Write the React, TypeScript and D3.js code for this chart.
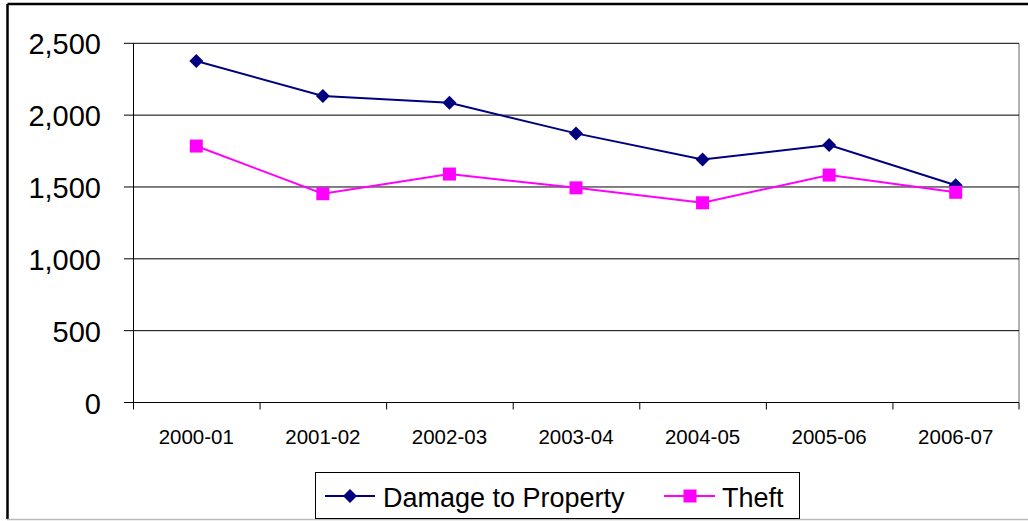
import React from "react";
import * as d3 from "d3";

const categories = ["2000-01", "2001-02", "2002-03", "2003-04", "2004-05", "2005-06", "2006-07"];
const damageToProperty = [2377, 2133, 2086, 1873, 1691, 1792, 1512];
const theft = [1785, 1453, 1590, 1494, 1390, 1583, 1463];
const yTicks = [0, 500, 1000, 1500, 2000, 2500];

const W = 1028;
const H = 521;
const FONT = "'Liberation Sans', Arial, sans-serif";

export default function App() {
  const x = d3.scaleBand<string>().domain(categories).range([133, 1019]).padding(0);
  const y = d3.scaleLinear().domain([0, 2500]).range([402.5, 43.3]);
  const cx = (c: string) => (x(c) as number) + x.bandwidth() / 2;
  const line = d3
    .line<number>()
    .x((_, i) => cx(categories[i]))
    .y((d) => y(d));
  const fmt = d3.format(",");
  const diamond = (px: number, py: number, r: number) =>
    `M${px},${py - r}L${px + r},${py}L${px},${py + r}L${px - r},${py}Z`;

  return (
    <svg
      width={W}
      height={H}
      style={{ position: "absolute", left: 0, top: 0, background: "#fff" }}
      fontFamily={FONT}
    >
      <rect x={0} y={0} width={W} height={H} fill="#fff" />
      {/* outer frame */}
      <line x1={7.5} y1={4} x2={W} y2={4} stroke="#000" strokeWidth={2.5} />
      <line x1={7.5} y1={4} x2={7.5} y2={519} stroke="#000" strokeWidth={2.5} />
      <line x1={7} y1={519.5} x2={W} y2={519.5} stroke="#bbb" strokeWidth={1.5} />

      {/* plot area right border */}
      <line x1={1019} y1={y(2500)} x2={1019} y2={y(0)} stroke="#808080" strokeWidth={1.2} />
      {/* gridlines */}
      {yTicks.map((t) => (
        <g key={t}>
          <line x1={124} x2={1019} y1={y(t)} y2={y(t)} stroke="#000" strokeWidth={1} />
          <text
            x={101}
            y={y(t) + 11}
            textAnchor="end"
            fontSize={29}
            fill="#000"
          >
            {fmt(t)}
          </text>
        </g>
      ))}
      {/* y axis */}
      <line x1={133.5} x2={133.5} y1={y(2500)} y2={y(0)} stroke="#000" strokeWidth={1} />
      {/* x ticks */}
      {categories.map((c) => (
        <line
          key={"t" + c}
          x1={(x(c) as number) + 0.5}
          x2={(x(c) as number) + 0.5}
          y1={y(0)}
          y2={409.5}
          stroke="#000"
          strokeWidth={1}
        />
      ))}
      <line x1={1019} x2={1019} y1={y(0)} y2={409.5} stroke="#000" strokeWidth={1} />
      {categories.map((c) => (
        <text key={"l" + c} x={cx(c)} y={444} textAnchor="middle" fontSize={20.5} fill="#000">
          {c}
        </text>
      ))}

      {/* series */}
      <path d={line(damageToProperty) as string} fill="none" stroke="#000080" strokeWidth={2} />
      {damageToProperty.map((v, i) => (
        <path key={"d" + i} d={diamond(cx(categories[i]), y(v), 7)} fill="#000080" />
      ))}
      <path d={line(theft) as string} fill="none" stroke="#FF00FF" strokeWidth={2} />
      {theft.map((v, i) => (
        <rect
          key={"s" + i}
          x={cx(categories[i]) - 6.5}
          y={y(v) - 6.5}
          width={13}
          height={13}
          fill="#FF00FF"
        />
      ))}

      {/* legend */}
      <rect x={315.5} y={472.5} width={484} height={46} fill="#fff" stroke="#000" strokeWidth={1} />
      <line x1={325} x2={375} y1={496} y2={496} stroke="#000080" strokeWidth={2} />
      <path d={diamond(350, 496, 7)} fill="#000080" />
      <text x={383} y={507} fontSize={27} fill="#000">
        Damage to Property
      </text>
      <line x1={664} x2={715} y1={496} y2={496} stroke="#FF00FF" strokeWidth={2} />
      <rect x={683.5} y={489.5} width={13} height={13} fill="#FF00FF" />
      <text x={722} y={507} fontSize={27} fill="#000">
        Theft
      </text>
    </svg>
  );
}
